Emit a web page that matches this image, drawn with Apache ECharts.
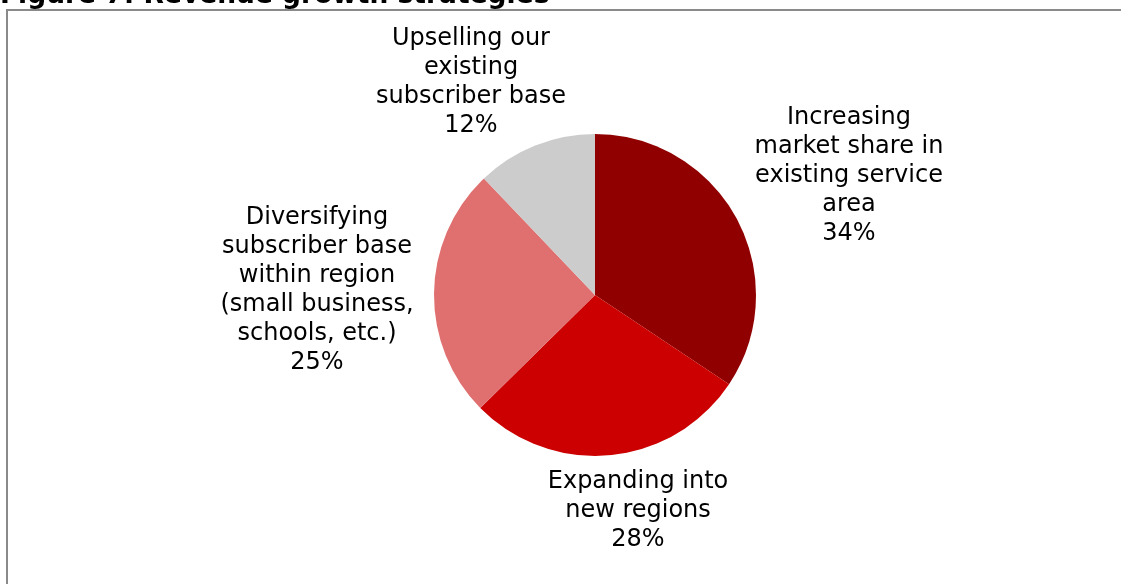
<!DOCTYPE html>
<html>
<head>
<meta charset="utf-8">
<script src="https://cdn.jsdelivr.net/npm/echarts@6/dist/echarts.min.js"></script>
<style>
  html, body { margin: 0; padding: 0; background: #ffffff; }
  #chart { width: 1121px; height: 584px; }
</style>
</head>
<body>
<div id="chart"></div>
<script>
// Survey shares of revenue growth strategies (percent)
const categories = [
  'Increasing\nmarket share in\nexisting service\narea',
  'Expanding into\nnew regions',
  'Diversifying\nsubscriber base\nwithin region\n(small business,\nschools, etc.)',
  'Upselling our\nexisting\nsubscriber base'
];
const shares = [34, 28, 25, 12];
const sliceColors = ['#900000', '#cc0000', '#e07070', '#cccccc'];

// Label anchor offsets from the pie centre (px), one per slice
const labelOffsets = [[254, -119], [43, 216], [-278, -5], [-124, -213]];

const pieCenter = [595, 295];
const pieRadius = 161;
const FONT = '"DejaVu Sans", Verdana, sans-serif';

const chart = echarts.init(document.getElementById('chart'), null, { renderer: 'canvas' });

chart.setOption({
  backgroundColor: '#ffffff',
  animation: false,
  title: {
    text: 'Figure 7: Revenue growth strategies',
    left: -5,
    top: -22,
    textStyle: { fontFamily: FONT, fontWeight: 'bold', fontSize: 26.5, color: '#000000' }
  },
  graphic: [{
    type: 'rect',
    shape: { x: 7, y: 10, width: 1300, height: 800 },
    style: { fill: 'none', stroke: '#8a8a8a', lineWidth: 2 },
    silent: true
  }],
  series: [{
    type: 'pie',
    center: pieCenter,
    radius: pieRadius,
    startAngle: 90,
    clockwise: true,
    avoidLabelOverlap: false,
    itemStyle: { borderWidth: 0 },
    emphasis: { disabled: true },
    label: {
      show: true,
      position: 'outside',
      formatter: p => categories[p.dataIndex] + '\n' + p.value + '%',
      fontFamily: FONT,
      fontSize: 24,
      lineHeight: 29,
      color: '#000000',
      align: 'center'
    },
    labelLine: { show: false },
    labelLayout: function (params) {
      const off = labelOffsets[params.dataIndex];
      return {
        x: pieCenter[0] + off[0],
        y: pieCenter[1] + off[1],
        align: 'center',
        verticalAlign: 'middle'
      };
    },
    data: shares.map((v, i) => ({
      value: v,
      name: categories[i],
      itemStyle: { color: sliceColors[i] }
    }))
  }]
});
</script>
</body>
</html>
